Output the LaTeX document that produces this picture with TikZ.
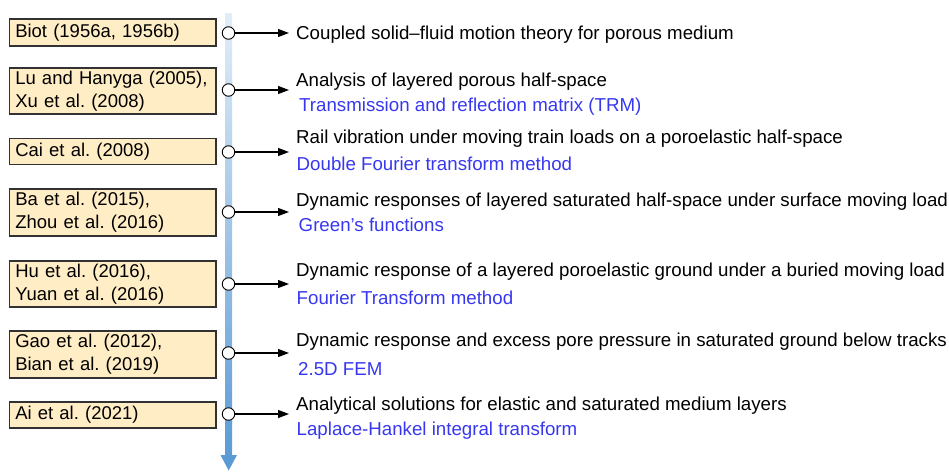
\documentclass[tikz,border=0pt]{standalone}
\usepackage{fontspec}
\setmainfont{Liberation Sans}
\usetikzlibrary{arrows.meta}
\frenchspacing

\definecolor{boxfill}{RGB}{255,237,198}
\definecolor{boxline}{RGB}{50,50,50}
\definecolor{methblue}{RGB}{55,55,240}
\definecolor{axisblue}{RGB}{91,155,213}
\definecolor{axistop}{RGB}{226,237,248}

\begin{document}
\begin{tikzpicture}[x=1pt,y=-1pt,font=\fontsize{18.7}{22.7}\selectfont,
    refbox/.style={draw=boxline,line width=1.2pt,fill=boxfill,minimum width=206.5pt,
      font=\fontsize{18.5}{22.7}\selectfont,text width=195pt,align=left,
      inner xsep=5.75pt,inner ysep=0pt},
    topic/.style={anchor=base west,inner sep=0pt},
    meth/.style={topic,text=methblue},
    dot/.style={circle,draw,fill=white,line width=0.9pt,minimum size=12.5pt,inner sep=0pt}]

	\useasboundingbox (0,0) rectangle (949,471);

	% time axis
	\shade[top color=axistop,bottom color=axisblue] (225.3,13) rectangle (232,456);
	\fill[axisblue] (220.5,455) -- (237,455) -- (228.7,470.5) -- cycle;

	% references
	\node[refbox,minimum height=27pt] (ref1) at (112.75,32.5) {Biot (1956a, 1956b)};
	\node[refbox,minimum height=46pt] (ref2) at (112.75,91) {Lu and Hanyga (2005),\\Xu et al. (2008)};
	\node[refbox,minimum height=26pt] (ref3) at (112.75,151.5) {Cai et al. (2008)};
	\node[refbox,minimum height=47pt] (ref4) at (112.75,212.5) {Ba et al. (2015),\\Zhou et al. (2016)};
	\node[refbox,minimum height=46pt] (ref5) at (112.75,284) {Hu et al. (2016),\\Yuan et al. (2016)};
	\node[refbox,minimum height=47pt] (ref6) at (112.75,354.5) {Gao et al. (2012),\\Bian et al. (2019)};
	\node[refbox,minimum height=26pt] (ref7) at (112.75,415) {Ai et al. (2021)};

	% works and methods
	\node[topic] (work1) at (296,39.5) {Coupled solid–fluid motion theory for porous medium};
	\node[topic] (work2) at (296,86) {Analysis of layered porous half-space};
	\node[meth] (meth2) at (299,111.7) {Transmission and reflection matrix (TRM)};
	\node[topic] (work3) at (296,143.3) {Rail vibration under moving train loads on a poroelastic half-space};
	\node[meth] (meth3) at (296.5,170) {Double Fourier transform method};
	\node[topic] (work4) at (296,206.7) {Dynamic responses of layered saturated half-space under surface moving load};
	\node[meth] (meth4) at (298.5,231.7) {Green’s functions};
	\node[topic] (work5) at (296,276.7) {Dynamic response of a layered poroelastic ground under a buried moving load};
	\node[meth] (meth5) at (296.5,304) {Fourier Transform method};
	\node[topic] (work6) at (296,346.7) {Dynamic response and excess pore pressure in saturated ground below tracks};
	\node[meth] (meth6) at (298,375) {2.5D FEM};
	\node[topic] (work7) at (296,410) {Analytical solutions for elastic and saturated medium layers};
	\node[meth] (meth7) at (296.5,435) {Laplace-Hankel integral transform};

	% dots and arrows
	\foreach \i/\y in {1/33,2/90,3/152,4/212,5/284,6/353,7/414} {
		\node[dot] (dot\i) at (228.5,\y) {};
		\coordinate (tip\i) at (289,\y);
		\draw[line width=1.1pt,-{Triangle[length=11pt,width=8pt]}] (dot\i) -- (tip\i);
	}

\end{tikzpicture}
\end{document}
